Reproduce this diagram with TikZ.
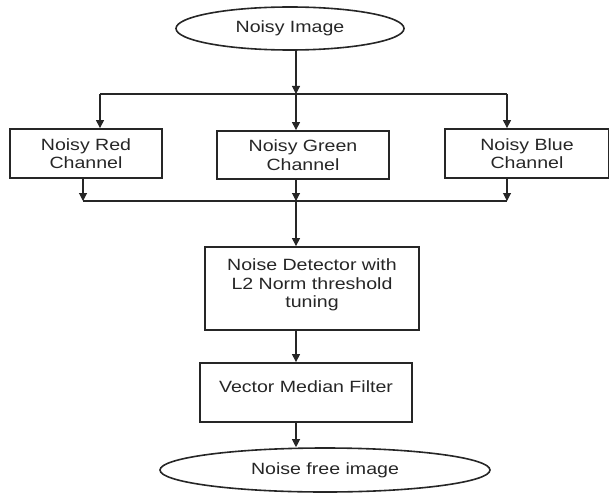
\documentclass[tikz,border=0pt]{standalone}
\usepackage{fontspec}
\setmainfont{Liberation Sans}[FakeStretch=1.2]
\usetikzlibrary{arrows.meta,shapes.geometric}
\begin{document}
\begin{tikzpicture}[x=1pt,y=-1pt,
  txt/.style={font=\fontsize{16.3}{18.5}\selectfont, text=black!85},
  box/.style={txt, draw=black!85, line width=1.8pt, rectangle, align=center, inner sep=0pt},
  oval/.style={txt, draw=black!85, line width=1.6pt, ellipse, inner sep=0pt},
  conn/.style={draw=black!85, line width=1.1pt},
  arr/.style={conn, -{Triangle[width=8pt,length=8pt]}}]
\useasboundingbox (0,0) rectangle (609,492);

\node[oval, minimum width=228pt, minimum height=43pt] (in) at (290,28.5) {Noisy Image};
\node[box, minimum width=152pt, minimum height=49pt] (red) at (86,153.5) {Noisy Red\\Channel};
\node[box, minimum width=172pt, minimum height=48pt] (green) at (303,155) {Noisy Green\\Channel};
\node[box, minimum width=164pt, minimum height=49pt] (blue) at (527,153.5) {Noisy Blue\\Channel};
\node[box, minimum width=214pt, minimum height=83pt, text depth=10.4pt] (nd) at (312,288.5) {Noise Detector with\\L2 Norm threshold\\tuning};
\node[box, minimum width=212pt, minimum height=59pt, text height=12pt, text depth=12pt] (vmf) at (306,392.5) {Vector Median Filter};
\node[oval, minimum width=330pt, minimum height=44pt] (out) at (325,470) {Noise free image};

\coordinate (j1) at (296,94);
\coordinate (jL) at (100,94);
\coordinate (jR) at (507,94);
\coordinate (kL) at (83,201);
\coordinate (kM) at (296,201);
\coordinate (kR) at (507,201);

\draw[arr] (in.south -| j1) -- (j1);
\draw[conn] (jL) -- (jR);
\draw[arr] (jL) -- (jL |- red.north);
\draw[arr] (j1) -- (j1 |- green.north);
\draw[arr] (jR) -- (jR |- blue.north);
\draw[arr] (kL |- red.south) -- (kL);
\draw[arr] (kM |- green.south) -- (kM);
\draw[arr] (kR |- blue.south) -- (kR);
\draw[conn] (kL) -- (kR);
\draw[arr] (kM) -- (kM |- nd.north);
\draw[arr] (kM |- nd.south) -- (kM |- vmf.north);
\draw[arr] (kM |- vmf.south) -- (kM |- out.north);
\end{tikzpicture}
\end{document}
